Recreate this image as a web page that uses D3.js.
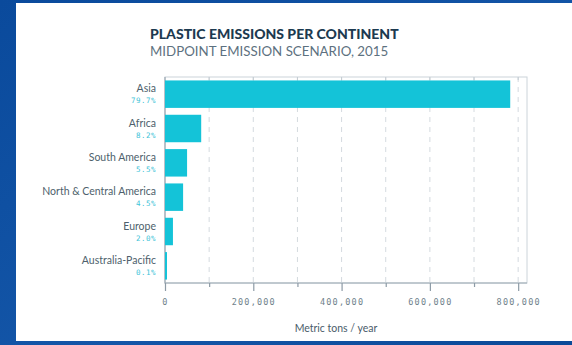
<!DOCTYPE html>
<html>
<head>
<meta charset="utf-8">
<script src="https://cdn.jsdelivr.net/npm/d3@7"></script>
<style>
  html, body { margin: 0; padding: 0; background: #0b4c9c; }
  svg { display: block; }
</style>
</head>
<body>
<svg class="chart_svg" width="572" height="345"></svg>
<script>
var continents = ["Asia", "Africa", "South America", "North & Central America", "Europe", "Australia-Pacific"];
var emissions = [782000, 82000, 50000, 41000, 18000, 1500];
var shares = ["79.7%", "8.2%", "5.5%", "4.5%", "2.0%", "0.1%"];
var tickValues = [0, 100000, 200000, 300000, 400000, 500000, 600000, 700000, 800000];
var tickLabels = ["0", "200,000", "400,000", "600,000", "800,000"];

var rows = continents.map(function(c, i) {
  return { name: c, value: emissions[i], share: shares[i] };
});

var svg = d3.select("svg.chart_svg");

// blue backdrop + white card
var grad = svg.append("defs").append("linearGradient")
              .attr("id", "bg").attr("x1", 0).attr("y1", 0).attr("x2", 1).attr("y2", 1);
grad.append("stop").attr("offset", "0%").attr("stop-color", "#0a4a9c");
grad.append("stop").attr("offset", "60%").attr("stop-color", "#1456a8");
grad.append("stop").attr("offset", "100%").attr("stop-color", "#0b4a98");
svg.append("rect").attr("width", 572).attr("height", 345).attr("fill", "url(#bg)");
svg.append("rect").attr("x", 16).attr("y", 3).attr("width", 556).attr("height", 338).attr("fill", "#ffffff");

var x = d3.scaleLinear().domain([0, 820000]).range([165, 527]);
var y = d3.scaleBand().domain(continents).range([77, 283]).paddingInner(0.2).paddingOuter(0.1);

// titles
svg.append("text").attr("x", 150).attr("y", 39)
   .attr("font-family", "Lato, sans-serif").attr("font-weight", 900).attr("font-size", 14)
   .attr("fill", "#1c3a50").text("PLASTIC EMISSIONS PER CONTINENT");
svg.append("text").attr("x", 150).attr("y", 56)
   .attr("font-family", "Lato, sans-serif").attr("font-weight", 400).attr("font-size", 13.3)
   .attr("fill", "#5d7180").text("MIDPOINT EMISSION SCENARIO, 2015");

// dashed grid
svg.append("g").selectAll("line")
   .data(tickValues.slice(1))
   .enter().append("line")
   .attr("x1", function(d) { return x(d); }).attr("x2", function(d) { return x(d); })
   .attr("y1", 77).attr("y2", 283)
   .attr("stroke", "#d4dadf").attr("stroke-width", 1).attr("stroke-dasharray", "5,5");

// frame
svg.append("rect").attr("x", 165).attr("y", 77).attr("width", 362).attr("height", 206)
   .attr("fill", "none").attr("stroke", "#ccd4da").attr("stroke-width", 1);
svg.append("path").attr("d", "M165,77V283H527")
   .attr("fill", "none").attr("stroke", "#9aa8b2").attr("stroke-width", 1.2);

// top ticks
svg.append("g").selectAll("line")
   .data(tickValues.slice(1))
   .enter().append("line")
   .attr("x1", function(d) { return x(d); }).attr("x2", function(d) { return x(d); })
   .attr("y1", 77).attr("y2", 80)
   .attr("stroke", "#c4ccd2");

// bottom axis
var axis = d3.axisBottom(x)
             .tickValues(tickValues)
             .tickSize(0)
             .tickFormat(function(d) { return d % 200000 === 0 ? d3.format(",")(d) : ""; });
var gx = svg.append("g").attr("transform", "translate(0,283)").call(axis);
gx.select(".domain").remove();
gx.selectAll(".tick line")
  .attr("y2", function(d) { return d % 200000 === 0 ? 8 : 4; })
  .attr("stroke", "#8d9ba6").attr("stroke-width", 1.2);
gx.selectAll(".tick text")
  .attr("y", 16)
  .attr("font-family", "'DejaVu Sans Mono', monospace").attr("font-size", 8.5)
  .attr("letter-spacing", 1.2)
  .attr("fill", "#6f7f8b");

svg.append("text").attr("x", 336).attr("y", 332).attr("text-anchor", "middle")
   .attr("font-family", "Lato, sans-serif").attr("font-size", 10.5)
   .attr("fill", "#4a5c6a").text("Metric tons / year");

// bars
svg.append("g").selectAll("rect")
   .data(rows)
   .enter().append("rect")
   .attr("x", x(0))
   .attr("y", function(d) { return y(d.name); })
   .attr("width", function(d) { return Math.max(2, x(d.value) - x(0)); })
   .attr("height", y.bandwidth())
   .attr("fill", "#14c3d8");

// category labels
var labels = svg.append("g").selectAll("g")
                .data(rows)
                .enter().append("g")
                .attr("transform", function(d) { return "translate(156," + (y(d.name) + y.bandwidth() / 2) + ")"; });
labels.append("text").attr("y", -2).attr("text-anchor", "end")
      .attr("font-family", "Lato, sans-serif").attr("font-size", 10.5)
      .attr("fill", "#4e5f6c").text(function(d) { return d.name; });
labels.append("text").attr("y", 9).attr("text-anchor", "end")
      .attr("font-family", "'DejaVu Sans Mono', monospace").attr("font-size", 7.5)
      .attr("letter-spacing", 0.5)
      .attr("fill", "#3fc4d8").text(function(d) { return d.share; });
</script>
</body>
</html>
